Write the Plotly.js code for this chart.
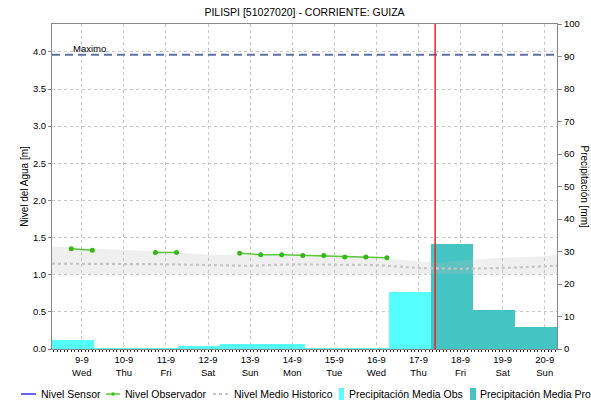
<!DOCTYPE html>
<html>
<head>
<meta charset="utf-8">
<script src="https://cdn.plot.ly/plotly-3.0.1.min.js"></script>
<style>html,body{margin:0;padding:0;background:#fff;}#chart{width:591px;height:403px;}</style>
</head>
<body>
<div id="chart"></div>
<script>
// ---- data ----
const chartTitle = 'PILISPI [51027020] - CORRIENTE: GUIZA';
const xRange = ['2020-09-08 07:00', '2020-09-20 07:00'];
const nowTime = '2020-09-17 09:30';
const maxLevel = 3.96;

const sensorTimes = [];
const sensorLevels = [];

const observerTimes = ['2020-09-08 18:00','2020-09-09 06:00','2020-09-09 12:00','2020-09-10 18:00','2020-09-11 06:00','2020-09-12 12:00',
  '2020-09-12 18:00','2020-09-13 06:00','2020-09-13 18:00','2020-09-14 06:00','2020-09-14 18:00','2020-09-15 06:00','2020-09-15 18:00','2020-09-16 06:00'];
const observerLevels = [1.35, 1.33, null, 1.30, 1.30, null, 1.29, 1.27, 1.27, 1.26, 1.26, 1.24, 1.24, 1.23];

const histTimes = ['2020-09-08 07:00','2020-09-09 00:00','2020-09-10 00:00','2020-09-11 00:00','2020-09-12 00:00','2020-09-13 00:00',
  '2020-09-14 00:00','2020-09-15 00:00','2020-09-16 00:00','2020-09-17 00:00','2020-09-17 12:00','2020-09-18 00:00','2020-09-19 00:00','2020-09-20 00:00','2020-09-20 07:00'];
const histMax  = [1.38, 1.36, 1.33, 1.31, 1.27, 1.27, 1.26, 1.25, 1.23, 1.18, 1.16, 1.19, 1.23, 1.25, 1.27];
const histMean = [1.15, 1.15, 1.14, 1.14, 1.13, 1.12, 1.14, 1.14, 1.13, 1.09, 1.08, 1.08, 1.09, 1.11, 1.12];
const histMin  = [1.01, 1.01, 1.01, 1.01, 1.01, 1.01, 1.01, 1.01, 1.01, 1.01, 1.00, 1.00, 1.01, 1.01, 1.01];

const precipObsTimes = ['2020-09-08 19:00','2020-09-09 19:00','2020-09-10 19:00','2020-09-11 19:00','2020-09-12 19:00',
  '2020-09-13 19:00','2020-09-14 19:00','2020-09-15 19:00','2020-09-16 19:00'];
const precipObs = [2.7, 0.4, 0.4, 1.0, 1.4, 1.4, 0.4, 0.4, 17.4];
const precipProTimes = ['2020-09-17 19:00','2020-09-18 19:00','2020-09-19 19:00'];
const precipPro = [32.2, 11.9, 6.8];

const legendLabels = ['Nivel Sensor','Nivel Observador','Nivel Medio Historico','Precipitación Media Obs','Precipitación Media Pro'];

// ---- layout helpers (pixel -> paper) ----
const W = 591, H = 403, ML = 52, MR = 34, MT = 24, MB = 54;
const PW = W - ML - MR, PH = H - MT - MB;
const px = p => (p - ML) / PW;
const py = p => (H - MB - p) / PH;
const DAY = 86400000;
const font = 'Liberation Sans, Arial, sans-serif';

const cyan = '#55ffff', teal = '#45c4c4', green = '#5cc83a', greenMk = '#33b814', histCol = '#c6c6c6';

const traces = [
  {type:'bar', name:'Precipitación Media Obs', x:precipObsTimes, y:precipObs, width:DAY, yaxis:'y',
   marker:{color:cyan, line:{width:0}}, showlegend:false, hoverinfo:'skip'},
  {type:'bar', name:'Precipitación Media Pro', x:precipProTimes, y:precipPro, width:DAY, yaxis:'y',
   marker:{color:teal, line:{width:0}}, showlegend:false, hoverinfo:'skip'},
  {type:'scatter', mode:'lines', x:histTimes, y:histMin, yaxis:'y2', line:{width:0, color:'rgba(0,0,0,0)'},
   showlegend:false, hoverinfo:'skip'},
  {type:'scatter', mode:'lines', x:histTimes, y:histMax, yaxis:'y2', line:{width:0, color:'rgba(0,0,0,0)'},
   fill:'tonexty', fillcolor:'rgba(190,190,190,0.24)', showlegend:false, hoverinfo:'skip'},
  {type:'scatter', mode:'lines', name:'Nivel Medio Historico', x:histTimes, y:histMean, yaxis:'y2',
   line:{color:histCol, width:2.2, dash:'dot'}, showlegend:false},
  {type:'scatter', mode:'lines', name:'Nivel Sensor', x:sensorTimes, y:sensorLevels, yaxis:'y2',
   line:{color:'#0000ff', width:1}, showlegend:false},
  {type:'scatter', mode:'lines+markers', name:'Nivel Observador', x:observerTimes, y:observerLevels, yaxis:'y2',
   line:{color:green, width:1.5}, marker:{color:greenMk, size:5, symbol:'circle'}, connectgaps:false, showlegend:false}
];

const legY = 394;
const shapes = [
  {type:'line', xref:'paper', yref:'y2', x0:0, x1:1, y0:maxLevel, y1:maxLevel, line:{color:'#5d70a6', width:2, dash:'8px,5px'}},
  {type:'line', xref:'x', yref:'paper', x0:nowTime, x1:nowTime, y0:0, y1:1, line:{color:'#ee2222', width:1.5}},
  // legend symbols
  {type:'line', xref:'paper', yref:'paper', x0:px(21), x1:px(36), y0:py(legY), y1:py(legY), line:{color:'#0000ff', width:1.2}},
  {type:'line', xref:'paper', yref:'paper', x0:px(106), x1:px(120), y0:py(legY), y1:py(legY), line:{color:green, width:1.5}},
  {type:'rect', xref:'paper', yref:'paper', x0:px(111.5), x1:px(114.5), y0:py(legY+1.5), y1:py(legY-1.5), fillcolor:greenMk, line:{width:0}},
  {type:'line', xref:'paper', yref:'paper', x0:px(213), x1:px(228), y0:py(legY), y1:py(legY), line:{color:histCol, width:2, dash:'dot'}},
  {type:'rect', xref:'paper', yref:'paper', x0:px(339), x1:px(344), y0:py(400), y1:py(388), fillcolor:cyan, line:{width:0}},
  {type:'rect', xref:'paper', yref:'paper', x0:px(470), x1:px(476), y0:py(400), y1:py(388), fillcolor:teal, line:{width:0}}
];

const legX = [39, 123, 232, 347, 478];
const annotations = legendLabels.map((t, i) => ({
  text:t, xref:'paper', yref:'paper', x:px(legX[i]), y:py(legY), xanchor:'left', yanchor:'middle',
  showarrow:false, font:{family:font, size:10.5, color:'#000'}
}));
annotations.push({text:'Maximo', xref:'paper', yref:'y2', x:px(71), y:maxLevel, xanchor:'left', yanchor:'bottom',
  yshift:-1, showarrow:false, font:{family:font, size:9.5, color:'#000'}});
annotations.push({text:'Precipitación [mm]', xref:'paper', yref:'paper', x:px(584), y:0.5, xanchor:'center', yanchor:'middle',
  textangle:90, showarrow:false, font:{family:font, size:10, color:'#000'}});

const layout = {
  width:W, height:H, margin:{l:ML, r:MR, t:MT, b:MB, pad:0},
  paper_bgcolor:'#fff', plot_bgcolor:'#fff',
  font:{family:font, size:9, color:'#000'},
  title:{text:chartTitle, font:{family:font, size:10.5, color:'#000'}, x:0.5, xref:'paper', xanchor:'center', y:1-12/H, yanchor:'middle'},
  showlegend:false, barmode:'overlay', bargap:0,
  xaxis:{type:'date', range:xRange, tick0:'2020-09-09', dtick:DAY, tickformat:'%-d-%-m<br>%a',
    showgrid:true, gridcolor:'#c8c8c8', griddash:'dot', gridwidth:1,
    showline:true, linecolor:'#888', mirror:true, ticks:'outside', ticklen:2, tickcolor:'#000',
    minor:{dtick:7200000, ticks:'outside', ticklen:2, tickcolor:'#222', showgrid:false},
    tickfont:{family:font, size:9.5, color:'#000'}, zeroline:false, fixedrange:true},
  yaxis:{side:'right', range:[0,100], dtick:10, showgrid:false, zeroline:false,
    showline:true, linecolor:'#888', ticks:'outside', ticklen:4, tickcolor:'#888',
    tickfont:{family:font, size:9.5, color:'#000'}},
  yaxis2:{side:'left', overlaying:'y', range:[0,4.375], dtick:0.5, tickformat:'.1f',
    showgrid:true, gridcolor:'#c8c8c8', griddash:'dot', gridwidth:1, zeroline:false,
    showline:true, linecolor:'#888', ticks:'outside', ticklen:3, tickcolor:'#888',
    tickfont:{family:font, size:9.5, color:'#000'},
    title:{text:'Nivel del Agua [m]', font:{family:font, size:10, color:'#000'}, standoff:2}},
  shapes:shapes, annotations:annotations
};

Plotly.newPlot('chart', traces, layout, {staticPlot:true, displayModeBar:false});
</script>
</body>
</html>
